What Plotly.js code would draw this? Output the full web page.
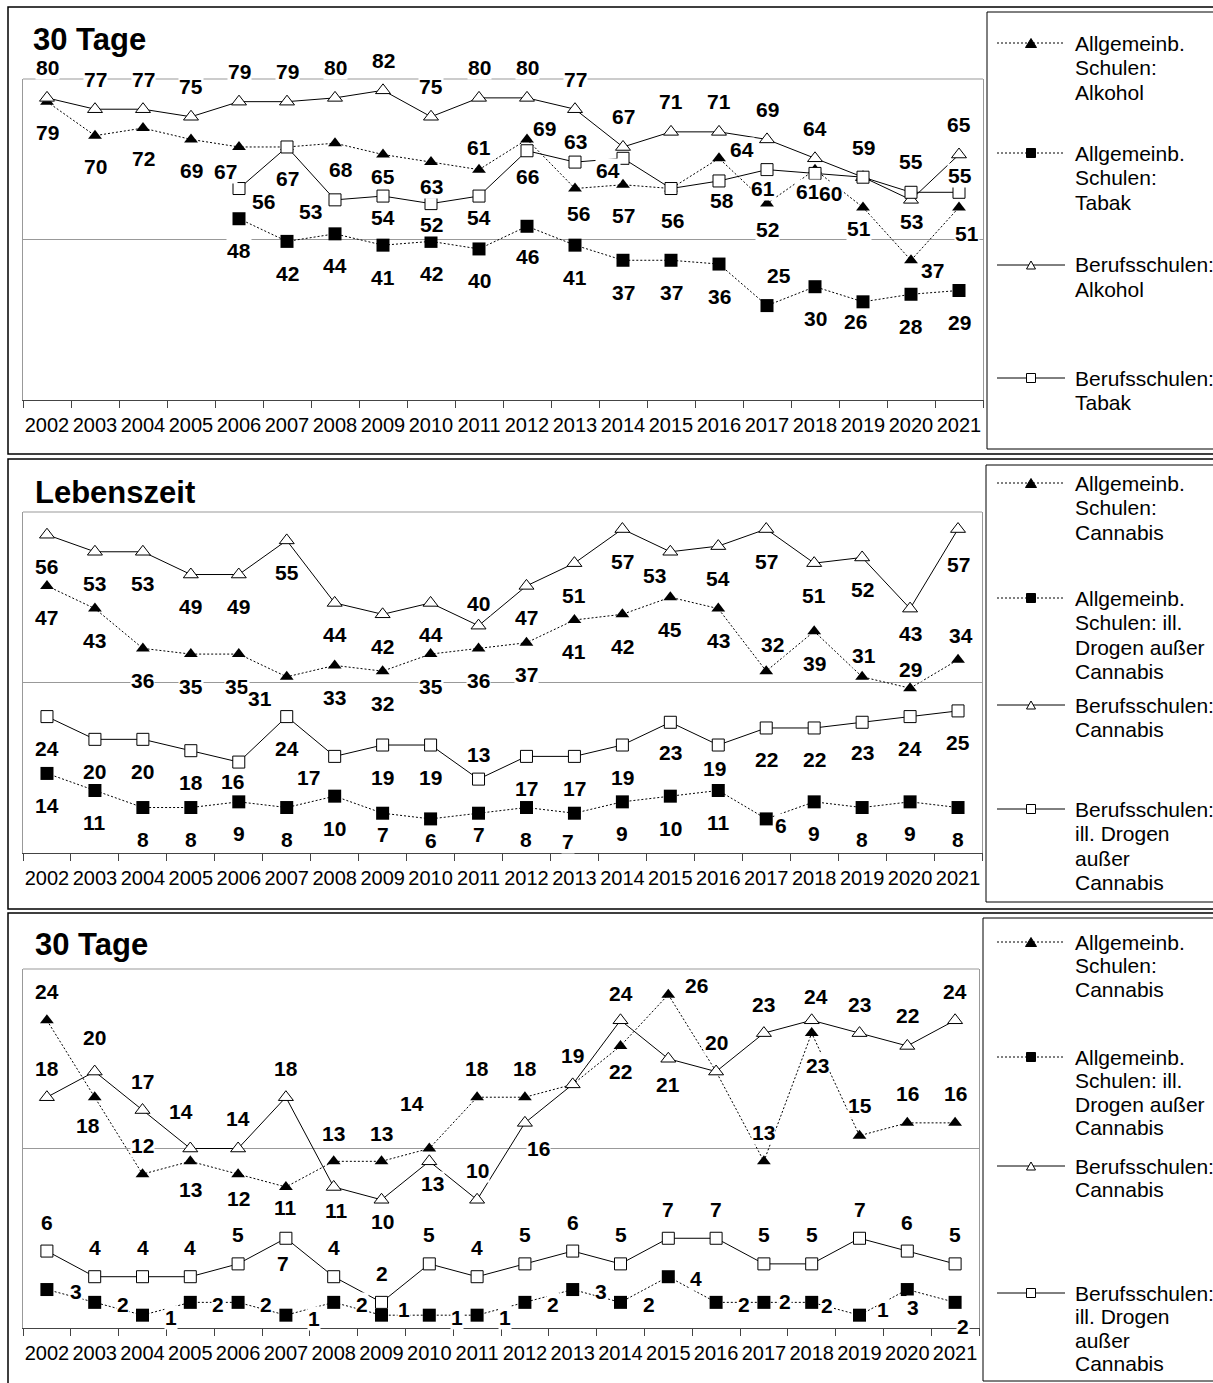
<!DOCTYPE html>
<html>
<head>
<meta charset="utf-8">
<script src="https://cdn.plot.ly/plotly-3.0.1.min.js"></script>
<style>html,body{margin:0;padding:0;background:#fff}#chart{width:1213px;height:1383px}</style>
</head>
<body>
<div id="chart"></div>
<script>
// ---------------- DATA ----------------
const years = ['2002','2003','2004','2005','2006','2007','2008','2009','2010','2011',
               '2012','2013','2014','2015','2016','2017','2018','2019','2020','2021'];

// Panel 1: 30 Tage – Alkohol / Tabak
const p1Title = '30 Tage';
const p1_allgAlkohol  = [79,70,72,69,67,67,68,65,63,61,69,56,57,56,64,52,61,51,37,51];
const p1_allgTabak    = [null,null,null,null,48,42,44,41,42,40,46,41,37,37,36,25,30,26,28,29];
const p1_berufAlkohol = [80,77,77,75,79,79,80,82,75,80,80,77,67,71,71,69,64,59,53,65];
const p1_berufTabak   = [null,null,null,null,56,67,53,54,52,54,66,63,64,56,58,61,60,59,55,55];
const p1Names = ['Allgemeinb.\nSchulen:\nAlkohol', 'Allgemeinb.\nSchulen:\nTabak',
                 'Berufsschulen:\nAlkohol', 'Berufsschulen:\nTabak'];

// Panel 2: Lebenszeit – Cannabis / illegale Drogen außer Cannabis
const p2Title = 'Lebenszeit';
const p2_allgCannabis  = [47,43,36,35,35,31,33,32,35,36,37,41,42,45,43,32,39,31,29,34];
const p2_allgDrogen    = [14,11,8,8,9,8,10,7,6,7,8,7,9,10,11,6,9,8,9,8];
const p2_berufCannabis = [56,53,53,49,49,55,44,42,44,40,47,51,57,53,54,57,51,52,43,57];
const p2_berufDrogen   = [24,20,20,18,16,24,17,19,19,13,17,17,19,23,19,22,22,23,24,25];

// Panel 3: 30 Tage – Cannabis / illegale Drogen außer Cannabis
const p3Title = '30 Tage';
const p3_allgCannabis  = [24,18,12,13,12,11,13,13,14,18,18,19,22,26,20,13,23,15,16,16];
const p3_allgDrogen    = [3,2,1,2,2,1,2,1,1,1,2,3,2,4,2,2,2,1,3,2];
const p3_berufCannabis = [18,20,17,14,14,18,11,10,13,10,16,19,24,21,20,23,24,23,22,24];
const p3_berufDrogen   = [6,4,4,4,5,7,4,2,5,4,5,6,5,7,7,5,5,7,6,5];

const drugNames = ['Allgemeinb.\nSchulen:\nCannabis', 'Allgemeinb.\nSchulen: ill.\nDrogen außer\nCannabis',
                   'Berufsschulen:\nCannabis', 'Berufsschulen:\nill. Drogen\naußer\nCannabis'];

// ---------------- LABEL PLACEMENT (pixel offsets dx, dy; dy>0 = below) ----------------
function offs(def, over) { return years.map(y => over[y] || def); }

const o1_allgAlkohol = offs([0,31], {'2004':[0,30],'2006':[-14,25],'2008':[6,26],'2009':[0,22],'2010':[0,24],
  '2011':[0,-22],'2012':[17,-11],'2013':[3,25],'2016':[23,-9],'2017':[0,26],'2018':[-7,22],'2019':[-4,21],
  '2020':[21,10],'2021':[8,26]});
const o1_allgTabak = offs([0,32], {'2012':[0,30],'2017':[12,-30],'2019':[-8,20]});
const o1_berufAlkohol = offs([0,-30], {'2020':[0,22]});
const o1_berufTabak = offs([0,21], {'2006':[24,13],'2007':[0,32],'2008':[-25,12],'2012':[0,26],'2013':[0,-21],
  '2014':[-15,12],'2015':[1,32],'2016':[3,20],'2017':[-4,19],'2018':[15,20],'2019':[0,-30],'2020':[0,-31],'2021':[1,-17]});

const o2_allgCannabis = offs([0,32], {'2006':[-2,32],'2007':[-27,22],'2017':[6,-27],'2019':[2,-21],'2020':[0,-19],'2021':[3,-24]});
const o2_allgDrogen = offs([0,32], {'2009':[0,21],'2010':[0,22],'2011':[0,21],'2013':[-6,28],'2017':[15,7]});
const o2_berufCannabis = offs([0,32], {'2011':[0,-22],'2015':[-16,24],'2020':[0,25],'2021':[0,35]});
const o2_berufDrogen = offs([0,32], {'2006':[-6,19],'2008':[-26,21],'2011':[0,-25],'2015':[0,30],'2016':[-4,23],'2019':[0,30]});

const o3_allgCannabis = offs([0,-29], {'2003':[-7,28],'2005':[0,28],'2006':[0,24],'2007':[0,21],'2008':[0,-28],
  '2009':[0,-28],'2010':[-17,-45],'2014':[0,26],'2015':[28,-9],'2018':[6,32],'2019':[0,-30]});
const o3_allgDrogen = offs([28,2], {'2002':[29,2],'2007':[28,3],'2009':[22,-6],'2017':[21,-1],'2018':[15,3],
  '2019':[23,-6],'2020':[6,18],'2021':[8,24]});
const o3_berufCannabis = offs([0,-29], {'2003':[0,-34],'2005':[-9,-37],'2006':[0,-30],'2008':[3,24],'2009':[1,22],
  '2010':[3,22],'2012':[14,26],'2014':[0,-27],'2015':[0,26],'2018':[4,-24],'2020':[0,-30]});
const o3_berufDrogen = offs([0,-29], {'2007':[-3,25]});

// ---------------- GEOMETRY & STYLE ----------------
const W = 1213, H = 1383;
const px = x => x / W;
const py = y => 1 - y / H;
const FONT = "Arial, 'Liberation Sans', sans-serif";
const DOT = '2px,2px';

const styles = {
  allgTri:  {line:{color:'#000',width:1,dash:DOT}, marker:{symbol:'triangle-up',size:12,color:'#000',line:{width:0}}},
  allgSq:   {line:{color:'#000',width:1,dash:DOT}, marker:{symbol:'square',size:13,color:'#000',line:{width:0}}},
  berufTri: {line:{color:'#000',width:1}, marker:{symbol:'triangle-up',size:13,color:'#fff',line:{color:'#000',width:1}}},
  berufSq:  {line:{color:'#000',width:1}, marker:{symbol:'square',size:12,color:'#fff',line:{color:'#000',width:1}}}
};

const panels = [
  { title: p1Title, titleX: 31, titleY: 40, yRange: [0,85], top: 79, bottom: 400, left: 23, right: 983,
    frame: [8, 7, 454], legendBox: [987, 12, 449], legendY: [43,153,265,378], legendStep: 24.5,
    series: [
      {name: p1Names[0], values: p1_allgAlkohol,  offs: o1_allgAlkohol,  style: 'allgTri'},
      {name: p1Names[1], values: p1_allgTabak,    offs: o1_allgTabak,    style: 'allgSq'},
      {name: p1Names[2], values: p1_berufAlkohol, offs: o1_berufAlkohol, style: 'berufTri'},
      {name: p1Names[3], values: p1_berufTabak,   offs: o1_berufTabak,   style: 'berufSq'}
    ]},
  { title: p2Title, titleX: 33, titleY: 492, yRange: [0,60], top: 512, bottom: 853, left: 23, right: 982,
    frame: [8, 459, 909], legendBox: [986, 465, 902], legendY: [483,598,705,809], legendStep: 24.5,
    series: [
      {name: drugNames[0], values: p2_allgCannabis,  offs: o2_allgCannabis,  style: 'allgTri'},
      {name: drugNames[1], values: p2_allgDrogen,    offs: o2_allgDrogen,    style: 'allgSq'},
      {name: drugNames[2], values: p2_berufCannabis, offs: o2_berufCannabis, style: 'berufTri'},
      {name: drugNames[3], values: p2_berufDrogen,   offs: o2_berufDrogen,   style: 'berufSq'}
    ]},
  { title: p3Title, titleX: 33, titleY: 944, yRange: [0,28], top: 969, bottom: 1328, left: 23, right: 979,
    frame: [8, 913, 1400], legendBox: [983, 918, 1381], legendY: [942,1057,1166,1293], legendStep: 23.5,
    series: [
      {name: drugNames[0], values: p3_allgCannabis,  offs: o3_allgCannabis,  style: 'allgTri'},
      {name: drugNames[1], values: p3_allgDrogen,    offs: o3_allgDrogen,    style: 'allgSq'},
      {name: drugNames[2], values: p3_berufCannabis, offs: o3_berufCannabis, style: 'berufTri'},
      {name: drugNames[3], values: p3_berufDrogen,   offs: o3_berufDrogen,   style: 'berufSq'}
    ]}
];

const traces = [], annotations = [], shapes = [];
const layout = {
  width: W, height: H, margin: {l:0, r:0, t:0, b:0, pad:0},
  paper_bgcolor: '#fff', plot_bgcolor: '#fff', showlegend: false,
  font: {family: FONT, color: '#000'}
};

panels.forEach((p, k) => {
  const n = k === 0 ? '' : String(k + 1);
  const xa = 'x' + n, ya = 'y' + n;
  layout['xaxis' + n] = {
    type: 'category', anchor: ya, domain: [px(p.left), px(p.right)], range: [-0.5, years.length - 0.5],
    tickson: 'boundaries', ticks: 'outside', ticklen: 7, tickwidth: 1, tickcolor: '#444', tickangle: 0,
    showline: true, linecolor: '#444', linewidth: 1, showgrid: false, zeroline: false,
    tickfont: {family: FONT, size: 20, color: '#000'}, ticklabelstandoff: 7, fixedrange: true
  };
  layout['yaxis' + n] = {
    anchor: xa, domain: [py(p.bottom), py(p.top)], range: p.yRange,
    tick0: 0, dtick: p.yRange[1] / 2, showticklabels: false, ticks: '',
    showgrid: true, gridcolor: '#999', gridwidth: 1, zeroline: false,
    showline: true, linecolor: '#999', linewidth: 1, mirror: true, fixedrange: true
  };
  shapes.push({type:'line', xref:'paper', yref:'paper', x0:px(p.left), x1:px(p.right), y0:py(p.top), y1:py(p.top),
               line:{color:'#999', width:1}, layer:'below'});
  shapes.push({type:'rect', xref:'paper', yref:'paper', x0:px(p.frame[0]), x1:1.05, y0:py(p.frame[2]), y1:py(p.frame[1]),
               line:{color:'#000', width:1.5}, fillcolor:'rgba(0,0,0,0)'});
  shapes.push({type:'rect', xref:'paper', yref:'paper', x0:px(p.legendBox[0]), x1:1.05, y0:py(p.legendBox[2]), y1:py(p.legendBox[1]),
               line:{color:'#000', width:1}, fillcolor:'rgba(0,0,0,0)'});
  annotations.push({xref:'paper', yref:'paper', x:px(p.titleX), y:py(p.titleY), xanchor:'left', yanchor:'middle',
                    text:p.title, showarrow:false, font:{family:FONT, size:31, weight:'bold', color:'#000'}});

  p.series.forEach((s, j) => {
    const st = styles[s.style];
    traces.push({
      type:'scatter', mode:'lines+markers', name: s.name.replace(/\n/g,' '),
      x: years, y: s.values, xaxis: xa, yaxis: ya, cliponaxis: false,
      line: st.line, marker: st.marker, hoverinfo: 'x+y+name'
    });
    // data labels (x given as category index on the category axis)
    s.values.forEach((v, i) => {
      if (v === null) return;
      const o = s.offs[i];
      annotations.push({xref: xa, yref: ya, x: i, y: v, text: String(v), showarrow: false,
        xanchor: 'center', yanchor: 'middle',
        xshift: o[0], yshift: -o[1], bgcolor: '#fff', borderpad: 0,
        font: {family: FONT, size: 21, weight: 'bold', color: '#000'}});
    });
    // custom legend entry mirroring the original layout
    const ly = p.legendY[j], lx0 = 997, lx1 = 1065, mx = 1031;
    shapes.push({type:'line', xref:'paper', yref:'paper', x0:px(lx0), x1:px(lx1), y0:py(ly), y1:py(ly),
                 line:{color:'#000', width:1, dash: st.line.dash || 'solid'}});
    const filled = s.style.startsWith('allg');
    if (st.marker.symbol === 'triangle-up') {
      const w = filled ? 11 : 9, h = filled ? 9 : 8;
      shapes.push({type:'path', xref:'paper', yref:'paper',
        path: `M${px(mx-w/2)},${py(ly+h/2)} L${px(mx+w/2)},${py(ly+h/2)} L${px(mx)},${py(ly-h/2)} Z`,
        fillcolor: filled ? '#000' : '#fff', line:{color:'#000', width:1}});
    } else {
      const a = 9;
      shapes.push({type:'rect', xref:'paper', yref:'paper', x0:px(mx-a/2), x1:px(mx+a/2), y0:py(ly+a/2), y1:py(ly-a/2),
        fillcolor: filled ? '#000' : '#fff', line:{color:'#000', width:1}});
    }
    s.name.split('\n').forEach((line, li) => {
      annotations.push({xref:'paper', yref:'paper', x:px(1073), y:py(ly + li * p.legendStep),
        xanchor:'left', yanchor:'middle', text: line, showarrow:false,
        font:{family:FONT, size:21, color:'#000'}});
    });
  });
});

layout.shapes = shapes;
layout.annotations = annotations;

Plotly.newPlot('chart', traces, layout, {staticPlot: true, displayModeBar: false});
</script>
</body>
</html>
